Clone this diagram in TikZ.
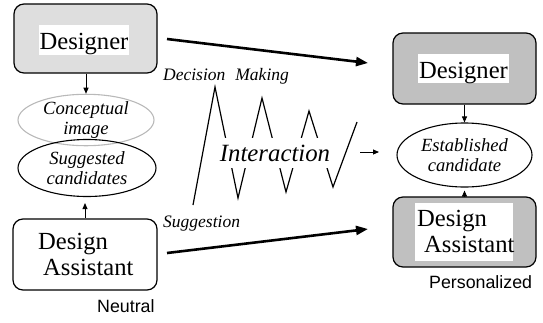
\documentclass[tikz,border=0pt]{standalone}
\usepackage{fontspec}
\setmainfont{Liberation Serif}
\newfontfamily\labelsans{Liberation Sans}
\usetikzlibrary{shapes.geometric,arrows.meta}

\definecolor{paleshade}{RGB}{222,222,222}
\definecolor{midshade}{RGB}{192,192,192}
\definecolor{ghostline}{RGB}{185,185,185}

\tikzset{
  agentbox/.style={draw=black, line width=1.2pt, rounded corners=10pt,
    minimum width=143pt, minimum height=70pt, inner sep=0pt},
  plate/.style={fill=white, inner sep=0pt},
  bigtext/.style={font=\fontsize{24.6}{26}\selectfont, inner sep=0pt},
  ideaoval/.style={ellipse, draw, line width=1.1pt, inner sep=0pt,
    font=\fontsize{18.6}{19.5}\selectfont\itshape, align=center},
  note/.style={font=\fontsize{17.5}{20}\selectfont\itshape, inner sep=0pt},
  tag/.style={font=\labelsans\fontsize{17.8}{20}\selectfont, inner sep=0pt},
  thinarrow/.style={-{Triangle[length=6pt,width=5pt]}, line width=0.9pt},
  heavyarrow/.style={-{Triangle[length=12pt,width=9pt]}, line width=2.6pt},
  zigline/.style={line width=1.2pt, line join=miter}
}

\begin{document}
\begin{tikzpicture}[x=1pt, y=-1pt]
\useasboundingbox (0,0) rectangle (543,322);

% ---- neutral side ----
\node[agentbox, fill=paleshade, minimum height=69pt] (ldes) at (85.5,38.5) {};
\node[plate, bigtext, minimum width=90pt, text height=24pt, text depth=6pt] (ldestxt) at (84,40) {Designer};

\node[agentbox, fill=white, minimum width=144pt, minimum height=71pt] (lda) at (85,254.5) {};
\node[bigtext, align=left, anchor=north west] (ldatxt) at (38,233.2) {Design\\\hspace{5pt}Assistant};

\node[ideaoval, draw=ghostline, minimum width=136pt, minimum height=50pt] (concept) at (86,120) {Conceptual\\image};
\node[ideaoval, minimum width=138pt, minimum height=57pt] (suggest) at (87,168) {Suggested\\candidates};

\draw[thinarrow] (ldes.south -| concept.north) -- (concept.north);
\draw[thinarrow, shorten >=6pt] (lda.north) -- (lda.north |- suggest.south);

\node[tag, anchor=base west] (neutral) at (97,312) {Neutral};

% ---- personalized side ----
\node[agentbox, fill=midshade, minimum height=71pt] (rdes) at (464.5,68.5) {};
\node[plate, bigtext, minimum width=91pt, text height=24pt, text depth=5pt] (rdestxt) at (463.5,68.5) {Designer};

\node[agentbox, fill=midshade] (rda) at (464.5,232) {};
\node[plate, minimum width=98pt, minimum height=58pt] (rdaplate) at (464,232) {};
\node[bigtext, align=left, anchor=north west] (rdatxt) at (417,210.2) {Design\\\hspace{7pt}Assistant};

\node[ideaoval, minimum width=135pt, minimum height=64pt] (est) at (464.5,155) {Established\\candidate};

\draw[thinarrow] (rdes.south) -- (est.north);
\draw[thinarrow, shorten >=3pt] (rda.north) -- (est.south);

\node[tag, anchor=base west] (personal) at (429,288) {Personalized};

% ---- exchange between the two sides ----
\coordinate (decFrom) at (167,39);
\coordinate (decTo) at (368,63);
\coordinate (sugFrom) at (167,253);
\coordinate (sugTo) at (368,229);
\draw[heavyarrow] (decFrom) -- (decTo);
\draw[heavyarrow] (sugFrom) -- (sugTo);

\node[note, anchor=base west] (decision) at (163,80) {Decision\hspace{10pt}Making};
\node[note, anchor=base west] (suggestion) at (163,227) {Suggestion};

% zigzag of the interaction, partly hidden by its label
\draw[zigline] (193,205) -- (215,87) -- (238,198) -- (262,98) -- (286,192)
  -- (309,111) -- (333,187) -- (357,122);
\node[plate, minimum width=112pt, minimum height=30pt,
  font=\fontsize{24.8}{26}\selectfont\itshape] (interact) at (275,153) {Interaction};

\coordinate (outFrom) at (360,152);
\coordinate (outTo) at (379,152);
\draw[thinarrow] (outFrom) -- (outTo);
\end{tikzpicture}
\end{document}
